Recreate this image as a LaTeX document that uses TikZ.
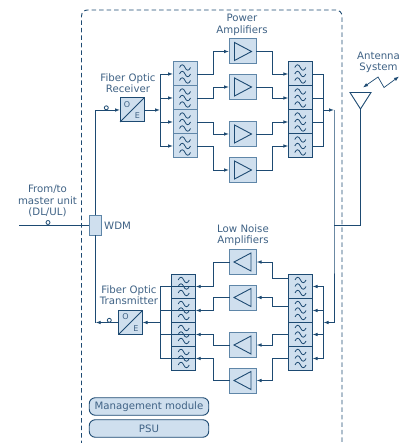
\documentclass[tikz,border=0pt]{standalone}
\usepackage{fontspec}
\setmainfont{DejaVu Sans}
\usetikzlibrary{arrows.meta,calc,positioning}
\definecolor{dasLine}{HTML}{1D4A72}
\definecolor{dasFill}{HTML}{CFDFEE}
\definecolor{dasText}{HTML}{3F6285}
\definecolor{dasEdge}{HTML}{5F86A8}
\newcommand{\filtermark}[1]{\foreach \dy in {-6.5,0,6.5} {\draw[glyph] ([xshift=-5.5pt,yshift=\dy pt]#1.center) .. controls +(1.5,-3.6) and +(-1.5,-3.6) .. ++(5.5,0) .. controls +(1.5,3.6) and +(-1.5,3.6) .. ++(5.5,0);}}
\begin{document}
\begin{tikzpicture}[x=1pt,y=-1pt,>={Latex[length=5pt,width=3.6pt]},line cap=butt,line join=miter,font=\fontsize{10.2}{11.5}\selectfont]
\useasboundingbox (0,0) rectangle (410,443);
\path[fill=white] (0,0) rectangle (410,443);
\tikzset{wire/.style={draw=dasLine,line width=0.9pt},glyph/.style={draw=dasLine,line width=0.8pt},box/.style={draw=dasLine,fill=dasFill,line width=1pt,minimum width=24pt,minimum height=24pt,inner sep=0pt,outer sep=0pt},softbox/.style={box,draw=dasEdge},ampbox/.style={box,draw=dasEdge,minimum width=27pt,minimum height=25pt},label/.style={text=dasText,align=center,inner sep=0pt},pill/.style={draw=dasLine,fill=dasFill,line width=0.9pt,rounded corners=6pt,minimum width=119.5pt,minimum height=17.5pt,inner sep=0pt,text=dasText}}
\draw[dasLine,line width=0.9pt,dash pattern=on 4.5pt off 3pt,rounded corners=6pt] (81.5,460) -- (81.5,10) -- (342,10) -- (342,460);
% downlink
\node[box,draw=dasEdge,minimum width=12.5pt,minimum height=20pt] (wdm) at (95.7,225) {};
\node[box] (rxoe) at (132,110) {};
\node[box] (txoe) at (130.5,322.5) {};
\foreach \n/\y in {1/74,2/98,3/122,4/146} {\node[softbox] (rxa\n) at (185,\y) {}; \node[box] (rxb\n) at (300.3,\y) {}; \filtermark{rxa\n} \filtermark{rxb\n}}
\foreach \n/\y in {1/51.5,2/87,3/134,4/170} {\node[ampbox] (pa\n) at (242.5,\y) {};
\draw[wire] ($(pa\n.center)+(-8,-9)$) -- ($(pa\n.center)+(9,0)$) -- ($(pa\n.center)+(-8,9)$) -- cycle;}
% uplink
\foreach \n/\y in {1/286.5,2/310.5,3/334.5,4/358.5} {\node[box] (txa\n) at (183.7,\y) {}; \node[box] (txb\n) at (300.5,\y) {}; \filtermark{txa\n} \filtermark{txb\n}}
\foreach \n/\y in {1/262,2/297.5,3/345,4/380.5} {\node[ampbox] (lna\n) at (243,\y) {};
\draw[wire] ($(lna\n.center)+(8,-9)$) -- ($(lna\n.center)+(-9,0)$) -- ($(lna\n.center)+(8,9)$) -- cycle;}
% opto marks
\foreach \b in {rxoe,txoe} {\draw[wire] (\b.south west) -- (\b.north east);
\node[label,font=\fontsize{8}{10}\selectfont] at ($(\b.center)+(-5,-5.5)$) {O}; \node[label,font=\fontsize{8}{10}\selectfont] at ($(\b.center)+(5.5,6)$) {E};}
% connectors
\coordinate (rxbus) at (160,110);
\coordinate (rxsum) at (323.5,110);
\coordinate (txbus) at (160.5,322.5);
\coordinate (txsum) at (323.5,322.5);
\coordinate (feedtop) at (334,110);
\coordinate (feedmid) at (334,225);
\coordinate (feedbot) at (334,322.5);
\coordinate (antfoot) at (360.5,225);
\coordinate (inleft) at (19,225);
\draw[wire] (inleft) -- (wdm.west);
\draw[wire,->] (wdm.north) |- (rxoe.west);
\draw[wire,->] (rxoe.east) -- (rxbus);
\draw[wire,->] (txbus) -- (txoe.east);
\draw[wire] (wdm.south) -- (txoe.west -| wdm.south);
\draw[wire,->] (txoe.west) -- (txoe.west -| wdm.south);
\foreach \n in {1,2,3,4} {\draw[wire,->] (rxbus) -- (rxbus |- rxa\n.west) -- (rxa\n.west);
\draw[wire,->] (rxa\n.east) -- ++(16,0) |- (pa\n.west);
\draw[wire,->] (pa\n.east) -- ++(16,0) |- (rxb\n.west);
\draw[wire] (rxb\n.east) -| (rxsum);
\draw[wire] (txbus) -- (txbus |- txa\n.east) -- (txa\n.east);
\draw[wire,->] (lna\n.west) -- ++(-16.5,0) |- (txa\n.east);
\draw[wire,->] (txsum) -- (txsum |- txb\n.east) -- (txb\n.east);}
\draw[wire,->] ([yshift=8pt]txb1.west) -- ++(-16.5,0) |- (lna1.east);
\draw[wire,->] ([yshift=4pt]txb2.west) -- ++(-16.5,0) |- (lna2.east);
\draw[wire,->] (txb3.west) -- ++(-16.5,0) |- (lna3.east);
\draw[wire,->] (txb4.west) -- ++(-16.5,0) |- (lna4.east);
\draw[wire,->] (rxsum) -- (feedtop);
\draw[wire] (feedtop) -- (feedmid) -- (feedbot);
\draw[wire,->] (feedbot) -- (txsum);
\draw[wire] (feedmid) -- (antfoot);
% antenna
\coordinate (anttip) at (360.5,109);
\coordinate (antl) at (350,92.5);
\coordinate (antr) at (371,92.5);
\draw[wire] (antl) -- (antr) -- (anttip) -- cycle;
\draw[wire] (anttip) -- (antfoot);
\coordinate (zapa) at (363,87.5);
\coordinate (zapb) at (378,77);
\coordinate (zapc) at (384,87.5);
\coordinate (zapd) at (399,76.5);
\draw[wire,line width=0.7pt,<->] (zapa) -- (zapb) -- (zapc) -- (zapd);
% fibre marks
\node[draw=dasLine,fill=white,circle,line width=0.8pt,minimum size=4pt,inner sep=0pt] (marka) at (106.3,107.8) {};
\node[draw=dasLine,fill=white,circle,line width=0.8pt,minimum size=4pt,inner sep=0pt] (markb) at (109.3,320.3) {};
\node[draw=dasLine,fill=white,circle,line width=0.8pt,minimum size=4pt,inner sep=0pt] (markc) at (48,222.5) {};
% labels
\node[label] (lbrx) at (128,83) {Fiber Optic\\Receiver};
\node[label] (lbtx) at (129,295) {Fiber Optic\\Transmitter};
\node[label] (lbpa) at (242,25) {Power\\Amplifiers};
\node[label] (lblna) at (243,235) {Low Noise\\Amplifiers};
\node[label] (lbant) at (378.5,62.5) {Antenna\\System};
\node[label] (lbin) at (47.5,201) {From/to\\master unit\\(DL/UL)};
\node[label,anchor=west] (lbwdm) at (104,226) {WDM};
\node[pill] (mgmt) at (149,406.5) {Management module};
\node[pill] (psu) at (149,428.5) {PSU};
\end{tikzpicture}
\end{document}
